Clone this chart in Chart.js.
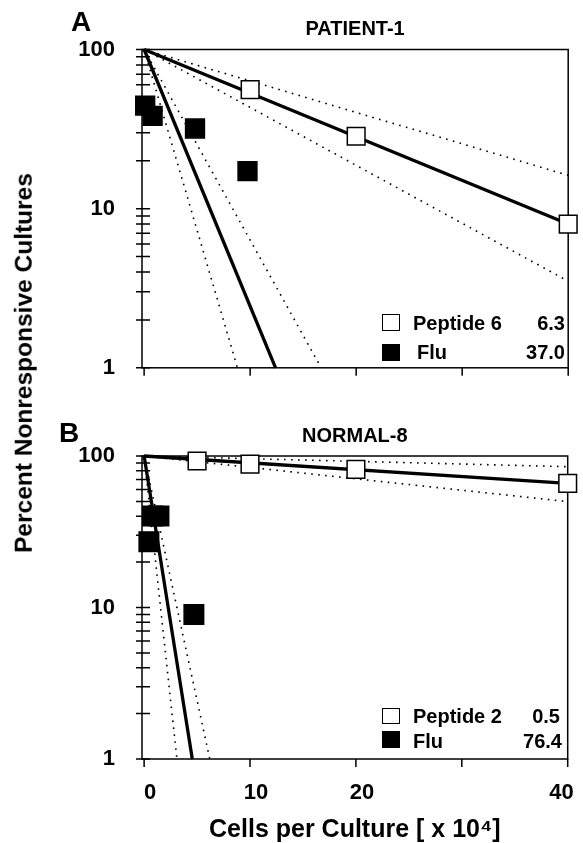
<!DOCTYPE html>
<html><head><meta charset="utf-8">
<script src="https://cdn.jsdelivr.net/npm/chart.js@4.4.1/dist/chart.umd.min.js"></script>
<style>
html,body{margin:0;padding:0;background:#fff;}
#wrap{position:relative;width:583px;height:843px;overflow:hidden;font-family:'Liberation Sans',Arial,sans-serif;font-weight:bold;color:#000;}
canvas{position:absolute;left:0;}
.t{position:absolute;white-space:nowrap;line-height:1;font-size:20px;}
.box{position:absolute;box-sizing:border-box;border:1.5px solid #000;}
</style></head><body>
<div id="wrap">
<canvas id="cA" width="583" height="400" style="top:0;width:583px;height:400px"></canvas>
<canvas id="cB" width="583" height="443" style="top:400px;width:583px;height:443px"></canvas>
<div class="t" style="left:71px;top:8px;font-size:28px;">A</div>
<div class="t" style="left:59px;top:419px;font-size:28px;">B</div>
<div class="t" style="left:24px;top:363px;font-size:24.5px;transform:translate(-50%,-50%) rotate(-90deg);">Percent Nonresponsive Cultures</div>
<div class="box" style="left:382px;top:314px;width:18px;height:17px;background:#fff;"></div>
<div class="t" style="left:413px;top:313px;">Peptide 6</div>
<div class="t" style="right:18px;top:313px;">6.3</div>
<div class="box" style="left:382px;top:344px;width:18px;height:17px;background:#000;"></div>
<div class="t" style="left:417px;top:342px;">Flu</div>
<div class="t" style="right:18px;top:342px;">37.0</div>
<div class="box" style="left:382px;top:708px;width:18px;height:16px;background:#fff;"></div>
<div class="t" style="left:413px;top:706px;">Peptide 2</div>
<div class="t" style="right:23px;top:706px;">0.5</div>
<div class="box" style="left:382px;top:731px;width:18px;height:17px;background:#000;"></div>
<div class="t" style="left:413px;top:731px;">Flu</div>
<div class="t" style="right:21px;top:731px;">76.4</div>
</div>
<script>
// ---------- axis ticks ----------
const xTickValues = [0, 10, 20, 30, 40];
const xTickLabels = ['0', '10', '20', '', '40\u00a0\u00a0\u00a0\u00a0'];
const yTickValues = [1,2,3,4,5,6,7,8,9,10,20,30,40,50,60,70,80,90,100];
const yTickLabelValues = [1, 10, 100];

// ---------- Panel A: PATIENT-1 ----------
const pepA_x = [10, 20, 40];
const pepA_y = [56, 28.5, 8.0];
const fluA_x = [0.1, 0.8, 4.8, 9.75];
const fluA_y = [44.4, 38.3, 31.9, 17.2];
const pepA_fit_x = [0, 40],   pepA_fit_y = [100, 8];
const pepA_hi_x  = [0, 40],   pepA_hi_y  = [100, 16.2];
const pepA_lo_x  = [0, 40],   pepA_lo_y  = [100, 3.5];
const fluA_fit_x = [0, 12.4], fluA_fit_y = [100, 1];
const fluA_lo_x  = [0, 8.8],  fluA_lo_y  = [100, 1];
const fluA_hi_x  = [0, 16.7], fluA_hi_y  = [100, 1];

// ---------- Panel B: NORMAL-8 ----------
const pepB_x = [5, 10, 20, 40];
const pepB_y = [92.7, 88.5, 81.7, 66];
const fluB_x = [0.45, 0.8, 1.4, 4.7];
const fluB_y = [27.2, 40.2, 40.2, 9.0];
const pepB_fit_x = [0, 40],   pepB_fit_y = [100, 66];
const pepB_hi_x  = [0, 40],   pepB_hi_y  = [100, 85];
const pepB_lo_x  = [0, 40],   pepB_lo_y  = [100, 50];
const fluB_fit_x = [0, 4.55], fluB_fit_y = [100, 1];
const fluB_lo_x  = [0, 3.1],  fluB_lo_y  = [100, 1];
const fluB_hi_x  = [0, 6.2],  fluB_hi_y  = [100, 1];

const pts = (xs, ys) => xs.map((x, i) => ({x, y: ys[i]}));

Chart.defaults.font.family = "'Liberation Sans', Arial, sans-serif";
Chart.defaults.font.weight = 'bold';
Chart.defaults.color = '#000';

const framePlugin = {
  id: 'frame',
  beforeDatasetsDraw(chart) {
    const {ctx, chartArea: a, scales: {x, y}} = chart;
    ctx.save();
    ctx.strokeStyle = '#000';
    ctx.lineWidth = 1.5;
    ctx.strokeRect(a.left, a.top, a.right - a.left, a.bottom - a.top);
    ctx.beginPath();
    y.ticks.forEach(t => { const p = y.getPixelForValue(t.value); ctx.moveTo(a.left - 6, p); ctx.lineTo(a.left + 8, p); });
    x.ticks.forEach(t => { const p = x.getPixelForValue(t.value); ctx.moveTo(p, a.bottom); ctx.lineTo(p, a.bottom + 8); });
    ctx.stroke();
    ctx.restore();
  }
};

function lineDs(data, dotted) {
  return {data, showLine: true, pointRadius: 0, borderColor: '#000',
    borderWidth: dotted ? 1.6 : 3.3, borderDash: dotted ? [1.6, 5.4] : [], clip: false, fill: false};
}
function pointDs(data, filled, r) {
  return {data, showLine: false, pointStyle: 'rect', pointRadius: r,
    backgroundColor: filled ? '#000' : '#fff', borderColor: '#000', borderWidth: 1.5, clip: false};
}

function makeChart(id, title, titlePad, xHeight, showXLabels, datasets) {
  return new Chart(document.getElementById(id), {
    type: 'scatter',
    data: {datasets},
    options: {
      responsive: false, animation: false, events: [],
      layout: {padding: {left: 0, right: 9, top: 0, bottom: 0}},
      plugins: {
        legend: {display: false}, tooltip: {enabled: false},
        title: {display: true, text: title, fullSize: false, color: '#000',
          font: {size: 20, weight: 'bold', lineHeight: 1.2}, padding: titlePad}
      },
      scales: {
        x: {
          type: 'linear', min: -0.2, max: 40,
          afterBuildTicks: s => { s.ticks = xTickValues.map(v => ({value: v})); },
          afterFit: s => { s.height = xHeight; s.paddingLeft = 0; s.paddingRight = 0; },
          grid: {display: false}, border: {display: false},
          ticks: {autoSkip: false, maxRotation: 0, minRotation: 0, padding: 12.8, labelOffset: 6, color: '#000',
            font: {size: 22, weight: 'bold'},
            callback: (v, i) => showXLabels ? xTickLabels[i] : ''},
          title: {display: showXLabels, text: 'Cells per Culture [ x 10\u2074]', color: '#000',
            font: {size: 25, weight: 'bold', lineHeight: 1}, padding: {top: 0, bottom: 0.5}}
        },
        y: {
          type: 'logarithmic', min: 1, max: 100,
          afterBuildTicks: s => { s.ticks = yTickValues.map(v => ({value: v, major: yTickLabelValues.includes(v)})); },
          afterFit: s => { s.width = 142; },
          grid: {display: false}, border: {display: false},
          ticks: {autoSkip: false, padding: 19, color: '#000', font: {size: 22, weight: 'bold'},
            callback: v => yTickLabelValues.includes(v) ? String(v) : ''}
        }
      }
    },
    plugins: [framePlugin]
  });
}

makeChart('cA', 'PATIENT-1', {top: 17, bottom: 8.5}, 31, false, [
  pointDs(pts(pepA_x, pepA_y), false, 12.5),
  pointDs(pts(fluA_x, fluA_y), true, 13.3),
  lineDs(pts(pepA_fit_x, pepA_fit_y), false),
  lineDs(pts(fluA_fit_x, fluA_fit_y), false),
  lineDs(pts(pepA_hi_x, pepA_hi_y), true),
  lineDs(pts(pepA_lo_x, pepA_lo_y), true),
  lineDs(pts(fluA_lo_x, fluA_lo_y), true),
  lineDs(pts(fluA_hi_x, fluA_hi_y), true)
]);

makeChart('cB', 'NORMAL-8', {top: 24.7, bottom: 7.3}, 84, true, [
  pointDs(pts(pepB_x, pepB_y), false, 12.5),
  pointDs(pts(fluB_x, fluB_y), true, 13.8),
  lineDs(pts(pepB_fit_x, pepB_fit_y), false),
  lineDs(pts(fluB_fit_x, fluB_fit_y), false),
  lineDs(pts(pepB_hi_x, pepB_hi_y), true),
  lineDs(pts(pepB_lo_x, pepB_lo_y), true),
  lineDs(pts(fluB_lo_x, fluB_lo_y), true),
  lineDs(pts(fluB_hi_x, fluB_hi_y), true)
]);
</script>
</body></html>
